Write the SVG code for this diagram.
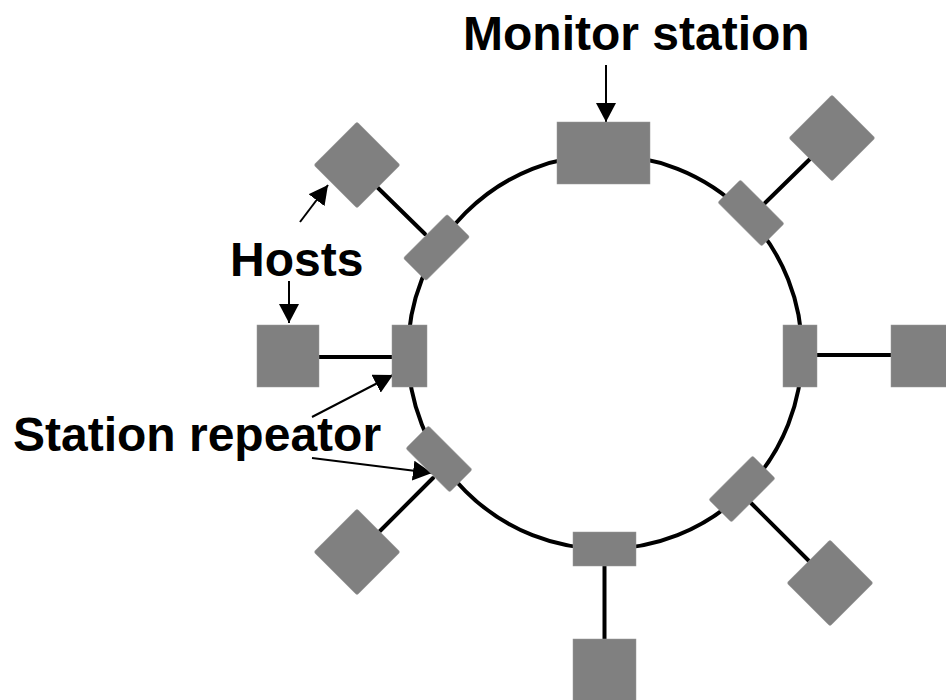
<svg xmlns="http://www.w3.org/2000/svg" width="946" height="700" viewBox="0 0 946 700">
<style>
.box{fill:#808080;stroke:#999;stroke-width:0.5}
.ring{fill:none;stroke:#000;stroke-width:4}
.link{stroke:#000;stroke-width:4;stroke-linecap:round}
.arr{stroke:#000;stroke-width:2;fill:none}
.lbl{font-family:"Liberation Sans",Arial,sans-serif;font-weight:bold;font-size:48px;fill:#000}
</style>
<defs>
<marker id="ah" markerUnits="userSpaceOnUse" markerWidth="20" markerHeight="20" refX="19" refY="10" orient="auto">
<path d="M0,0 L19,10 L0,20 Z" fill="#000"/>
</marker>
</defs>
<rect width="946" height="700" fill="#fff"/>
<g id="ring"><circle class="ring" cx="605" cy="352" r="197"/></g>
<g id="connectors">
<line class="link" x1="316" y1="357" x2="392" y2="357"/>
<line class="link" x1="817" y1="355" x2="894" y2="355"/>
<line class="link" x1="604.5" y1="566" x2="604.5" y2="642"/>
<line class="link" x1="376" y1="186" x2="425" y2="234"/>
<line class="link" x1="811" y1="158" x2="765" y2="203"/>
<line class="link" x1="751" y1="503" x2="811" y2="563"/>
<line class="link" x1="378" y1="533" x2="433" y2="478"/>
<line class="arr" x1="606" y1="65" x2="606" y2="122" marker-end="url(#ah)"/>
<line class="arr" x1="300" y1="222" x2="328" y2="185" marker-end="url(#ah)"/>
<line class="arr" x1="289" y1="281" x2="289" y2="323" marker-end="url(#ah)"/>
<line class="arr" x1="312" y1="417" x2="393" y2="375" marker-end="url(#ah)"/>
<line class="arr" x1="312" y1="458" x2="432" y2="473" marker-end="url(#ah)"/>
</g>
<g id="monitor"><rect class="box" x="557" y="122" width="93" height="62"/></g>
<g id="rep-left"><rect class="box" x="392" y="325" width="35" height="62"/></g>
<g id="rep-right"><rect class="box" x="783" y="325" width="34" height="62"/></g>
<g id="rep-bottom"><rect class="box" x="573" y="532" width="63" height="34"/></g>
<g id="rep-ul"><rect class="box" x="-31" y="-16" width="62" height="32" rx="2" transform="translate(436.5,247.5) rotate(-45)"/></g>
<g id="rep-ur"><rect class="box" x="-31" y="-16" width="62" height="32" rx="2" transform="translate(751,213) rotate(45)"/></g>
<g id="rep-lr"><rect class="box" x="-31" y="-16" width="62" height="32" rx="2" transform="translate(742,489) rotate(-45)"/></g>
<g id="rep-ll"><rect class="box" x="-31" y="-16" width="62" height="32" rx="2" transform="translate(439,459) rotate(45)"/></g>
<g id="host-left"><rect class="box" x="257" y="325" width="62" height="62"/></g>
<g id="host-right"><rect class="box" x="891" y="325" width="62" height="62"/></g>
<g id="host-bottom"><rect class="box" x="573" y="639" width="63" height="62"/></g>
<g id="host-ul"><rect class="box" x="-30.5" y="-30.5" width="61" height="61" rx="2" transform="translate(357,165) rotate(45)"/></g>
<g id="host-ur"><rect class="box" x="-30.5" y="-30.5" width="61" height="61" rx="2" transform="translate(832,138) rotate(45)"/></g>
<g id="host-lr"><rect class="box" x="-30.5" y="-30.5" width="61" height="61" rx="2" transform="translate(830,583) rotate(45)"/></g>
<g id="host-ll"><rect class="box" x="-30.5" y="-30.5" width="61" height="61" rx="2" transform="translate(357,552) rotate(45)"/></g>
<g id="labels">
<text class="lbl" x="463" y="50">Monitor station</text>
<text class="lbl" x="230" y="276">Hosts</text>
<text class="lbl" x="13" y="451">Station repeator</text>
</g>
</svg>
